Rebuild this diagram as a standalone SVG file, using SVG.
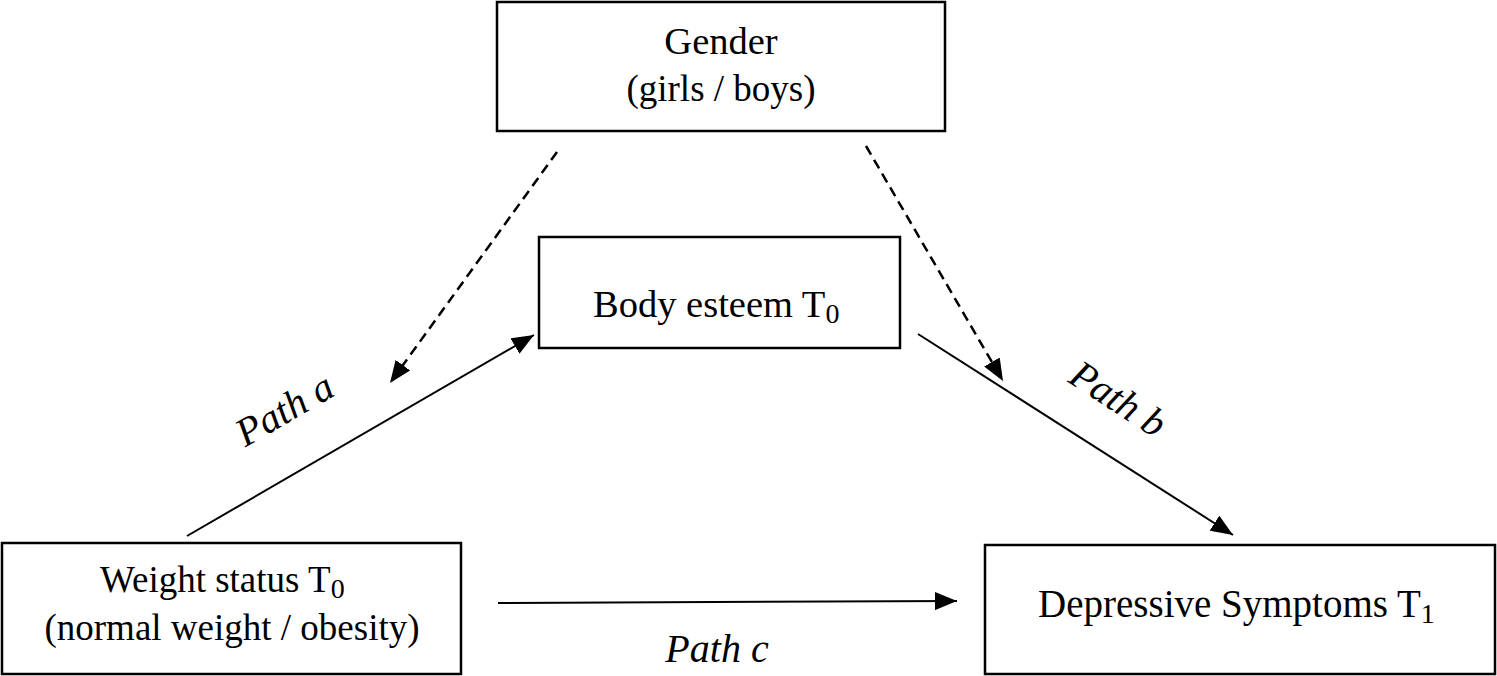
<svg xmlns="http://www.w3.org/2000/svg" width="1497" height="676" viewBox="0 0 1497 676">
<style>
.box{fill:#fff;stroke:#000;stroke-width:2.5}
.t{font-family:"Liberation Serif","Times New Roman",serif;font-size:38.5px;fill:#000}
.s{font-size:37px}
.i{font-style:italic;font-size:40px}
.c{stroke:#000;stroke-width:2;fill:none}
.d{stroke-width:2.5;stroke-dasharray:10 6}
.sub{font-size:28px}
</style>
<defs>
<marker id="ah" viewBox="0 0 22 18" refX="22" refY="9" markerWidth="22" markerHeight="18" markerUnits="userSpaceOnUse" orient="auto">
<path d="M0,0 L22,9 L0,18 z" fill="#000" stroke="none"/>
</marker>
</defs>
<rect width="1497" height="676" fill="#fff"/>
<g id="connectors">
<line class="c d" x1="557" y1="152" x2="390" y2="383" marker-end="url(#ah)"/>
<line class="c d" x1="866" y1="146" x2="1003" y2="381" marker-end="url(#ah)"/>
<line class="c" x1="187" y1="536" x2="534" y2="335" marker-end="url(#ah)"/>
<line class="c" x1="918" y1="334" x2="1233" y2="535" marker-end="url(#ah)"/>
<line class="c" x1="498" y1="603" x2="957" y2="601" marker-end="url(#ah)"/>
<text class="t i" transform="translate(291,421) rotate(-30)" text-anchor="middle">Path a</text>
<text class="t i" transform="translate(1111,410) rotate(33)" text-anchor="middle">Path b</text>
<text class="t i" x="717" y="662" text-anchor="middle">Path c</text>
</g>
<g id="gender">
<rect class="box" x="497" y="2" width="448" height="129"/>
<text class="t" x="721" y="54" text-anchor="middle">Gender</text>
<text class="t s" x="721" y="101" text-anchor="middle">(girls / boys)</text>
</g>
<g id="body-esteem">
<rect class="box" x="539" y="237" width="361" height="111"/>
<text class="t" x="593" y="317">Body esteem T<tspan class="sub" dy="6">0</tspan></text>
</g>
<g id="weight-status">
<rect class="box" x="2" y="543" width="459" height="131"/>
<text class="t s" x="100" y="592">Weight status T<tspan class="sub" dy="6">0</tspan></text>
<text class="t s" x="232" y="640" text-anchor="middle">(normal weight / obesity)</text>
</g>
<g id="depressive-symptoms">
<rect class="box" x="985" y="545" width="510" height="129"/>
<text class="t" x="1038" y="617" style="font-size:39px">Depressive Symptoms T<tspan class="sub" dy="6">1</tspan></text>
</g>
</svg>
